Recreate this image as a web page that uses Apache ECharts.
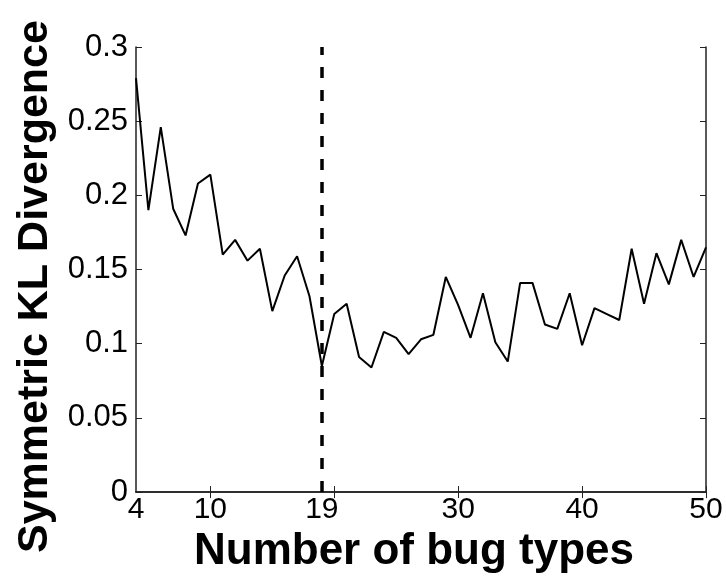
<!DOCTYPE html>
<html>
<head>
<meta charset="utf-8">
<script src="https://cdn.jsdelivr.net/npm/echarts@6/dist/echarts.min.js"></script>
<style>html,body{margin:0;padding:0;background:#fff;}#c{width:726px;height:579px;}</style>
</head>
<body>
<div id="c"></div>
<script>
const bugTypes = [4,5,6,7,8,9,10,11,12,13,14,15,16,17,18,19,20,21,22,23,24,25,26,27,28,29,30,31,32,33,34,35,36,37,38,39,40,41,42,43,44,45,46,47,48,49,50];
const klDivergence = [0.279,0.190,0.246,0.191,0.173,0.208,0.214,0.160,0.170,0.156,0.164,0.122,0.146,0.159,0.132,0.085,0.120,0.127,0.091,0.084,0.108,0.104,0.093,0.103,0.106,0.145,0.126,0.104,0.134,0.101,0.088,0.141,0.141,0.113,0.110,0.134,0.099,0.124,0.120,0.116,0.164,0.127,0.161,0.140,0.170,0.145,0.165];
const xTickValues = [10,20,30,40,50];
const xLabelValues = [4,10,19,30,40,50];
const selectedK = 19;
const xLabelTitle = 'Number of bug types';
const yLabelTitle = 'Symmetric KL Divergence';

const font = 'Liberation Sans, Arial, Helvetica, sans-serif';
const axisLineStyle = {color:'#222', width:1.5};
const chart = echarts.init(document.getElementById('c'), null, {renderer:'canvas'});
chart.setOption({
  animation:false,
  grid:{left:136, right:20, top:47, bottom:84, containLabel:false},
  xAxis:[{
    type:'value', min:4, max:50,
    axisLine:{show:true, lineStyle:axisLineStyle, onZero:false},
    axisTick:{show:true, inside:true, length:6, lineStyle:{color:'#222', width:1}, customValues:xTickValues},
    axisLabel:{show:true, customValues:xLabelValues, margin:3, fontSize:30, fontFamily:font, color:'#000'},
    splitLine:{show:false},
    name:xLabelTitle, nameLocation:'middle', nameGap:28,
    nameTextStyle:{fontSize:44, fontWeight:'bold', fontFamily:font, color:'#000', padding:[0,14,0,0]}
  },{
    type:'value', min:4, max:50, position:'top',
    axisLine:{show:true, lineStyle:axisLineStyle},
    axisTick:{show:true, inside:true, length:6, lineStyle:{color:'#222', width:1}, customValues:xTickValues},
    axisLabel:{show:false}, splitLine:{show:false}
  }],
  yAxis:[{
    type:'value', min:0, max:0.3, interval:0.05,
    axisLine:{show:true, lineStyle:axisLineStyle},
    axisTick:{show:true, inside:true, length:6, lineStyle:{color:'#222', width:1}},
    axisLabel:{margin:8, fontSize:31, fontFamily:font, color:'#000'},
    splitLine:{show:false},
    name:yLabelTitle, nameLocation:'middle', nameRotate:90, nameGap:63,
    nameTextStyle:{fontSize:43, fontWeight:'bold', fontFamily:font, color:'#000', padding:[0,34,0,0]}
  },{
    type:'value', min:0, max:0.3, interval:0.05, position:'right',
    axisLine:{show:true, lineStyle:axisLineStyle},
    axisTick:{show:true, inside:true, length:6, lineStyle:{color:'#222', width:1}},
    axisLabel:{show:false}, splitLine:{show:false}
  }],
  series:[{
    type:'line',
    data:bugTypes.map((x,i)=>[x, klDivergence[i]]),
    showSymbol:false, symbol:'none',
    lineStyle:{color:'#000', width:2},
    markLine:{
      silent:true, symbol:['none','none'], label:{show:false},
      lineStyle:{color:'#000', width:3.5, type:[11,12]},
      data:[{xAxis:selectedK}]
    }
  }]
});
</script>
</body>
</html>
